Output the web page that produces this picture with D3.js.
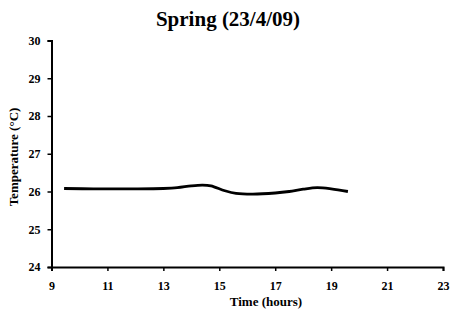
<!DOCTYPE html>
<meta charset="utf-8">
<head>
    <title>Spring (23/4/09)</title>
    <style>
      body { margin: 0; background: #fff; }
      text { font-family: "Liberation Serif", "DejaVu Serif", serif; font-weight: bold; fill: #000; }
    </style>
</head>
<body>
    <script src="https://cdn.jsdelivr.net/npm/d3@7"></script>
    <div id="chart"></div>
    <script>

        // readings
        var hours = [9.45, 10.5, 12, 13, 13.5, 14, 14.4, 14.7, 15.2, 15.6, 16.2, 17, 17.5, 18, 18.5, 19, 19.6];
        var temps = [26.08, 26.07, 26.07, 26.08, 26.1, 26.15, 26.17, 26.15, 26.02, 25.95, 25.93, 25.96, 26.0, 26.06, 26.1, 26.07, 26.0];
        var xTicks = [9, 11, 13, 15, 17, 19, 21, 23];
        var yTicks = [24, 25, 26, 27, 28, 29, 30];

        var width = 450;
        var height = 312;

        var x = d3.scaleLinear().domain([9, 23]).range([51.5, 443]);
        var y = d3.scaleLinear().domain([24, 30]).range([267, 40.5]);

        var svg = d3.select('#chart')
          .append('svg')
          .attr('width', width)
          .attr('height', height);

        svg.append('text')
          .attr('x', 228)
          .attr('y', 26)
          .attr('text-anchor', 'middle')
          .style('font-size', '21px')
          .text('Spring (23/4/09)');

        var xAxis = svg.append('g')
          .attr('transform', 'translate(0,267)')
          .call(d3.axisBottom(x).tickValues(xTicks).tickSize(4).tickPadding(10).tickFormat(d3.format('d')));

        var yAxis = svg.append('g')
          .attr('transform', 'translate(51.5,0)')
          .call(d3.axisLeft(y).tickValues(yTicks).tickSize(4).tickPadding(7).tickFormat(d3.format('d')));

        [xAxis, yAxis].forEach(function(a) {
          a.select('.domain').attr('stroke', '#000').attr('stroke-width', 2);
          a.selectAll('.tick line').attr('stroke', '#000').attr('stroke-width', 1.5);
          a.selectAll('.tick text')
            .style('font-family', '"Liberation Serif", serif')
            .style('font-weight', 'bold')
            .style('font-size', '12px');
        });

        svg.append('text')
          .attr('x', 266)
          .attr('y', 306)
          .attr('text-anchor', 'middle')
          .style('font-size', '13px')
          .text('Time (hours)');

        svg.append('text')
          .attr('transform', 'translate(18,157) rotate(-90)')
          .attr('text-anchor', 'middle')
          .style('font-size', '13px')
          .text('Temperature (°C)');

        var line = d3.line()
          .x(function(d) { return x(d[0]); })
          .y(function(d) { return y(d[1]); })
          .curve(d3.curveCatmullRom);

        svg.append('path')
          .datum(d3.zip(hours, temps))
          .attr('fill', 'none')
          .attr('stroke', '#000')
          .attr('stroke-width', 2.8)
          .attr('d', line);
  </script>
</body>
